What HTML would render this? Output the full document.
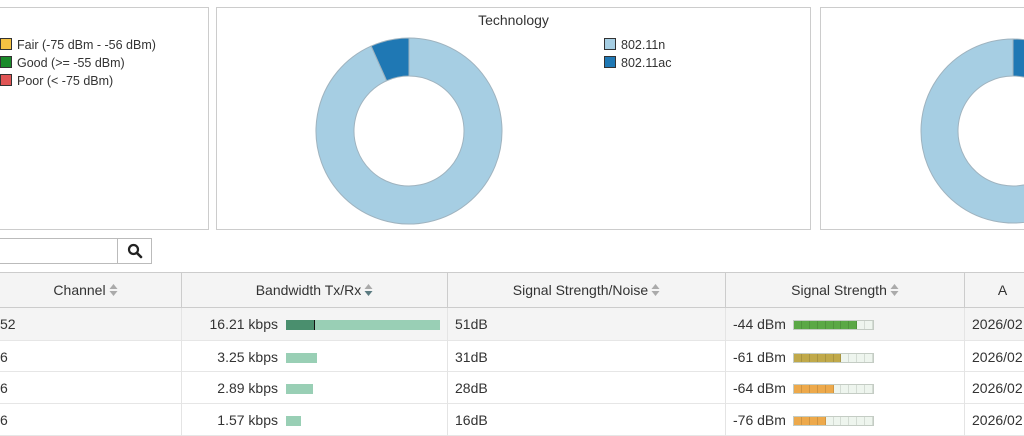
<!DOCTYPE html>
<html><head><meta charset="utf-8"><style>
body{margin:0;width:1024px;height:434px;overflow:hidden;background:#fff;font-family:"Liberation Sans",sans-serif;font-size:13px;color:#333;position:relative}
.abs{position:absolute}
.panel{position:absolute;border:1px solid #ccc;background:#fff;box-sizing:border-box}
.lg{position:absolute;font-size:12.5px;color:#333;white-space:nowrap}
.sw{display:inline-block;width:10px;height:10px;border:1px solid #333;vertical-align:-1px;margin-right:5px}
.hdr{position:absolute;top:272px;height:36px;background:#f4f4f4;border-top:1px solid #ccc;border-bottom:1px solid #ccc;box-sizing:border-box;line-height:34px;text-align:center;font-size:14px;color:#333}
.cell{position:absolute;font-size:14px;color:#333;white-space:nowrap}
.sort{display:inline-block;width:9px;height:14px;vertical-align:-2px;margin-left:3px}
</style></head><body>
<div class="panel" style="left:-10px;top:7px;width:219px;height:223px"></div>
<div class="lg" style="left:0;top:38px"><span class="sw" style="background:#f5c242"></span>Fair (-75 dBm - -56 dBm)</div>
<div class="lg" style="left:0;top:56px"><span class="sw" style="background:#1a8a2a"></span>Good (&gt;= -55 dBm)</div>
<div class="lg" style="left:0;top:74px"><span class="sw" style="background:#e05555"></span>Poor (&lt; -75 dBm)</div>

<div class="panel" style="left:216px;top:7px;width:595px;height:223px"></div>
<div class="abs" style="left:216px;width:595px;top:12px;text-align:center;font-size:14px">Technology</div>
<div class="lg" style="left:604px;top:38px"><span class="sw" style="background:#a6cee3"></span>802.11n</div>
<div class="lg" style="left:604px;top:56px"><span class="sw" style="background:#1f78b4"></span>802.11ac</div>

<div class="panel" style="left:820px;top:7px;width:220px;height:223px"></div>

<svg class="abs" style="left:0;top:0" width="1024" height="434" id="donuts"></svg>

<div class="abs" style="left:-2px;top:238px;width:120px;height:26px;border:1px solid #bbb;box-sizing:border-box"></div>
<div class="abs" style="left:117px;top:238px;width:35px;height:26px;border:1px solid #bbb;box-sizing:border-box;text-align:center">
<svg width="16" height="16" style="margin-top:4px"><circle cx="6.5" cy="6.5" r="4.5" fill="none" stroke="#222" stroke-width="2.2"/><line x1="10" y1="10" x2="14" y2="14" stroke="#222" stroke-width="2.6" stroke-linecap="round"/></svg></div>

<div id="table"></div>

<script>
const techCategories = ['802.11n','802.11ac'];
const techValues = [14, 1];
const rightValues = [14, 1];
const rowsChannel = ['52','6','6','6'];
const rowsBandwidth = [16.21, 3.25, 2.89, 1.57];
const rowsBandwidthTx = [2.9, 0, 0, 0];
const rowsSNR = ['51dB','31dB','28dB','16dB'];
const rowsSignal = [-44, -61, -64, -76];
const rowsSignalBars = [8, 6, 5, 4];

const NS='http://www.w3.org/2000/svg';
const svg=document.getElementById('donuts');
const colors=['#a6cee3','#1f78b4'];
function donut(cx,cy,ro,ri,vals,name,acFirst){
  const tot=vals.reduce((a,b)=>a+b,0);
  vals.forEach((v,i)=>{
    const f=v/tot, g=vals[1]/tot;
    let s,e;
    if(acFirst){ if(i===1){s=0;e=f;} else {s=g;e=1;} }
    else { if(i===0){s=0;e=f;} else {s=-f;e=0;} }
    const A=t=>t*2*Math.PI-Math.PI/2;
    const p=(r,t)=>[cx+r*Math.cos(A(t)),cy+r*Math.sin(A(t))];
    const large=(e-s)>0.5?1:0;
    const [x1,y1]=p(ro,s),[x2,y2]=p(ro,e),[x3,y3]=p(ri,e),[x4,y4]=p(ri,s);
    const path=document.createElementNS(NS,'path');
    path.setAttribute('d',`M${x1} ${y1}A${ro} ${ro} 0 ${large} 1 ${x2} ${y2}L${x3} ${y3}A${ri} ${ri} 0 ${large} 0 ${x4} ${y4}Z`);
    path.setAttribute('fill',colors[i]);
    path.setAttribute('stroke','#9fb3bf');
    path.setAttribute('stroke-width','1');
    
    
    svg.appendChild(path);
  });
}
donut(409,131,93,55,techValues,'technology',false);
donut(1013,131,92,55,rightValues,'right',true);

const T=document.getElementById('table');
const cols=[[-10,181],[181,447],[447,725],[725,964],[964,1040]];
const heads=['Channel','Bandwidth Tx/Rx','Signal Strength/Noise','Signal Strength','A'];
function el(html){const d=document.createElement('div');d.innerHTML=html;return d.firstChild;}
const sortSvg='<svg class="sort" viewBox="0 0 9 14"><path d="M0.5 6L4.5 1L8.5 6Z" fill="#aaa"/><path d="M0.5 8L4.5 13L8.5 8Z" fill="#aaa"/></svg>';
const sortDesc='<svg class="sort" viewBox="0 0 9 14"><path d="M0.5 6L4.5 1L8.5 6Z" fill="#aaa"/><path d="M0.5 8L4.5 13L8.5 8Z" fill="#5a7a80"/></svg>';
cols.forEach((c,i)=>{
  const h=el(`<div class="hdr" style="left:${c[0]}px;width:${c[1]-c[0]}px;${i>0?'border-left:1px solid #ccc;':''}">${heads[i]}${i<4?(i===1?sortDesc:sortSvg):''}</div>`);
  
  
  T.appendChild(h);
});
const rowTop=[308,341,372,404,436];
const bwMax=16.21, bwW=154;
rowsChannel.forEach((ch,r)=>{
  const y=rowTop[r], rowH=rowTop[r+1]-y;
  const row=el(`<div class="abs" style="left:0;top:${y}px;width:1024px;height:${rowH}px;background:${r===0?'#f4f4f4':'#fff'};border-bottom:1px solid #e6e6e6;box-sizing:border-box"></div>`);
  
  
  T.appendChild(row);
  [181,447,725,964].forEach(x=>{const l=el(`<div class="abs" style="left:${x}px;top:${y}px;width:1px;height:${rowH}px;background:#e4e4e4"></div>`);T.appendChild(l);});
  const ty=y+8;
  const c1=el(`<div class="cell" style="left:0;top:${ty}px">${ch}</div>`);
  
  
  T.appendChild(c1);
  const c2=el(`<div class="cell" style="right:${1024-278}px;top:${ty}px">${rowsBandwidth[r].toFixed(2)} kbps</div>`);
  
  
  T.appendChild(c2);
  const w=rowsBandwidth[r]/bwMax*bwW, tw=rowsBandwidthTx[r]/bwMax*bwW;
  const b=el(`<div class="abs" style="left:286px;top:${y+12}px;width:${w}px;height:10px;background:#99cfb5"></div>`);
  
  
  T.appendChild(b);
  if(tw>0){const bt=el(`<div class="abs" style="left:286px;top:${y+12}px;width:${tw}px;height:10px;background:#4a8f6e;border-right:1px solid #111"></div>`);
  
  
  T.appendChild(bt);}
  const c3=el(`<div class="cell" style="left:455px;top:${ty}px">${rowsSNR[r]}</div>`);
  
  
  T.appendChild(c3);
  const c4=el(`<div class="cell" style="left:733px;top:${ty}px">${rowsSignal[r]} dBm</div>`);
  
  
  T.appendChild(c4);
  const n=rowsSignalBars[r];
  const col=rowsSignal[r]>=-55?'#5aa845':(n>=6?'#c0a94a':'#eda94b');
  const box=el(`<div class="abs" style="left:793px;top:${y+12}px;width:81px;height:10px;box-sizing:border-box;border:1px solid #c4ccc4;background:#eef5ee"></div>`);
  
  
  T.appendChild(box);
  for(let k=0;k<10;k++){
    const x0=Math.round(794+k*7.9), x1=Math.round(794+(k+1)*7.9);
    const s=el(`<div class="abs" style="left:${x0}px;top:${y+13}px;width:${x1-x0}px;height:8px;box-sizing:border-box;border-right:1px solid ${k<n?'rgba(0,0,0,0.12)':'#d4dcd4'};background:${k<n?col:'#eef5ee'}"></div>`);
    
    
    T.appendChild(s);
  }
  const c5=el(`<div class="cell" style="left:972px;top:${ty}px">2026/02</div>`);
  
  
  T.appendChild(c5);
});
</script>
</body></html>
